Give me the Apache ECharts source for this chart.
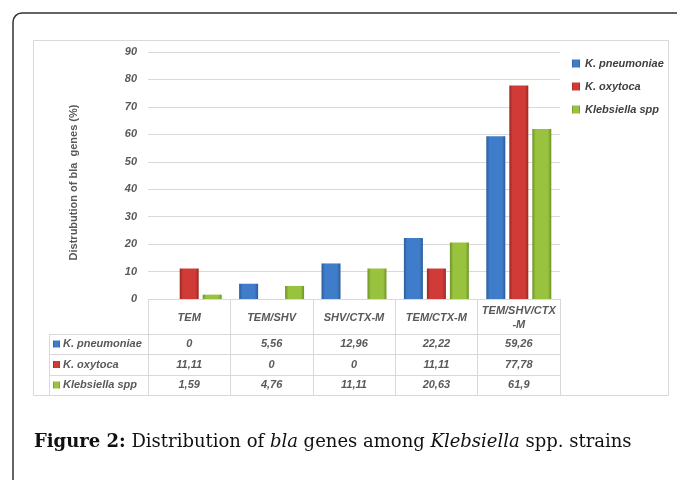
<!DOCTYPE html>
<html>
<head>
<meta charset="utf-8">
<script src="https://cdn.jsdelivr.net/npm/echarts@6.0.0/dist/echarts.min.js"></script>
<style>
  html, body { margin: 0; padding: 0; background: #fff; }
  #chart { width: 677px; height: 480px; }
</style>
</head>
<body>
<div id="chart"></div>
<script>
// data
const categories = ['TEM', 'TEM/SHV', 'SHV/CTX-M', 'TEM/CTX-M', 'TEM/SHV/CTX-M']
const headerLabels = ['TEM', 'TEM/SHV', 'SHV/CTX-M', 'TEM/CTX-M', 'TEM/SHV/CTX\n-M']
const seriesNames = ['K. pneumoniae', 'K. oxytoca', 'Klebsiella spp']
const kPneumoniae = [0, 5.56, 12.96, 22.22, 59.26]
const kOxytoca = [11.11, 0, 0, 11.11, 77.78]
const klebsiellaSpp = [1.59, 4.76, 11.11, 20.63, 61.9]
const yMin = 0
const yMax = 90
const yStep = 10

const seriesData = [kPneumoniae, kOxytoca, klebsiellaSpp]
const palette = [
  { dark: '#2b5c9a', main: '#3f7dcb' },
  { dark: '#9c2723', main: '#d13b37' },
  { dark: '#6e9327', main: '#99c33f' }
]

// layout
const gridLeft = 148
const gridRight = 560
const gridTop = 52
const gridBottom = 299
const tableBottom = 395
const rowLines = [334, 354, 375, 395]
const labelColLeft = 49
const grayText = '#595959'
const lineGray = '#d9d9d9'
const uiFont = 'Liberation Sans'

const fmt = v => String(v).replace('.', ',')

function barColor(c) {
  return new echarts.graphic.LinearGradient(0, 0, 1, 0, [
    { offset: 0, color: c.dark },
    { offset: 0.18, color: c.main },
    { offset: 0.82, color: c.main },
    { offset: 1, color: c.dark }
  ])
}

const labelStyle = {
  fontFamily: uiFont,
  fontSize: 11,
  fontStyle: 'italic',
  fontWeight: 'bold',
  color: grayText
}

// one hidden-line x axis per table row, values shown as tick labels
const rowAxes = seriesData.map((vals, k) => ({
  type: 'category',
  data: categories,
  position: 'bottom',
  offset: 0,
  axisLine: { show: false },
  axisTick: { show: false },
  axisLabel: Object.assign({}, labelStyle, {
    interval: 0,
    verticalAlign: 'middle',
    margin: (rowLines[k] + rowLines[k + 1]) / 2 - gridBottom,
    formatter: (v, i) => fmt(vals[i])
  })
}))

const tableGraphics = []
rowLines.forEach(y => {
  tableGraphics.push({
    type: 'line',
    shape: { x1: labelColLeft, y1: y + 0.5, x2: gridRight, y2: y + 0.5 },
    style: { stroke: lineGray, lineWidth: 1 }
  })
})
tableGraphics.push({
  type: 'line',
  shape: { x1: labelColLeft + 0.5, y1: rowLines[0], x2: labelColLeft + 0.5, y2: tableBottom },
  style: { stroke: lineGray, lineWidth: 1 }
})
seriesNames.forEach((name, k) => {
  const cy = (rowLines[k] + rowLines[k + 1]) / 2
  tableGraphics.push({
    type: 'rect',
    shape: { x: 53, y: cy - 3.5, width: 7, height: 7 },
    style: { fill: barColor(palette[k]) }
  })
  tableGraphics.push({
    type: 'text',
    x: 63,
    y: cy,
    style: {
      text: name,
      fill: grayText,
      font: 'italic bold 11px "' + uiFont + '"',
      verticalAlign: 'middle'
    }
  })
})

const chart = echarts.init(document.getElementById('chart'))
chart.setOption({
  animation: false,
  backgroundColor: '#fff',
  grid: {
    left: gridLeft,
    right: 677 - gridRight,
    top: gridTop,
    bottom: 480 - gridBottom
  },
  legend: {
    data: seriesNames,
    orient: 'vertical',
    left: 572,
    top: 57,
    padding: 0,
    itemWidth: 8,
    itemHeight: 8,
    itemGap: 10,
    icon: 'rect',
    textStyle: {
      fontFamily: uiFont,
      fontSize: 11,
      fontStyle: 'italic',
      fontWeight: 'bold',
      color: '#404040',
      lineHeight: 13
    }
  },
  xAxis: [{
    type: 'category',
    data: categories,
    position: 'bottom',
    axisLine: { lineStyle: { color: lineGray } },
    axisTick: { show: true, length: tableBottom - gridBottom, lineStyle: { color: lineGray } },
    axisLabel: Object.assign({}, labelStyle, {
      interval: 0,
      verticalAlign: 'middle',
      lineHeight: 14,
      margin: 19,
      formatter: (v, i) => headerLabels[i]
    })
  }].concat(rowAxes),
  yAxis: {
    type: 'value',
    min: yMin,
    max: yMax,
    interval: yStep,
    name: 'Distrubution of bla  genes (%)',
    nameLocation: 'middle',
    nameRotate: 90,
    nameGap: 69,
    nameTextStyle: {
      fontFamily: uiFont,
      fontSize: 11,
      fontWeight: 'bold',
      color: grayText,
      padding: [0, 14, 0, 0]
    },
    axisLine: { show: false },
    axisTick: { show: false },
    axisLabel: Object.assign({}, labelStyle, { margin: 11 }),
    splitLine: { lineStyle: { color: lineGray } }
  },
  series: seriesNames.map((name, k) => ({
    name: name,
    type: 'bar',
    xAxisIndex: 0,
    data: seriesData[k],
    barWidth: 19,
    barGap: '21%',
    itemStyle: { color: barColor(palette[k]) }
  })),
  graphic: [
    {
      type: 'rect',
      shape: { x: 13, y: 13, width: 720, height: 520, r: 9 },
      style: { fill: 'none', stroke: '#333', lineWidth: 1.5 },
      z: 100
    },
    {
      type: 'rect',
      shape: { x: 33.5, y: 40.5, width: 635, height: 355 },
      style: { fill: 'none', stroke: lineGray, lineWidth: 1 }
    },
    {
      type: 'text',
      x: 34,
      y: 442,
      style: {
        text: '{b|Figure 2:} Distribution of {i|bla} genes among {i|Klebsiella} spp. strains',
        font: '18px "DejaVu Serif"',
        fill: '#111',
        verticalAlign: 'middle',
        rich: {
          b: { fontFamily: 'DejaVu Serif', fontSize: 18, fontWeight: 'bold', fill: '#111' },
          i: { fontFamily: 'DejaVu Serif', fontSize: 18, fontStyle: 'italic', fill: '#111' }
        }
      }
    }
  ].concat(tableGraphics)
})
</script>
</body>
</html>
